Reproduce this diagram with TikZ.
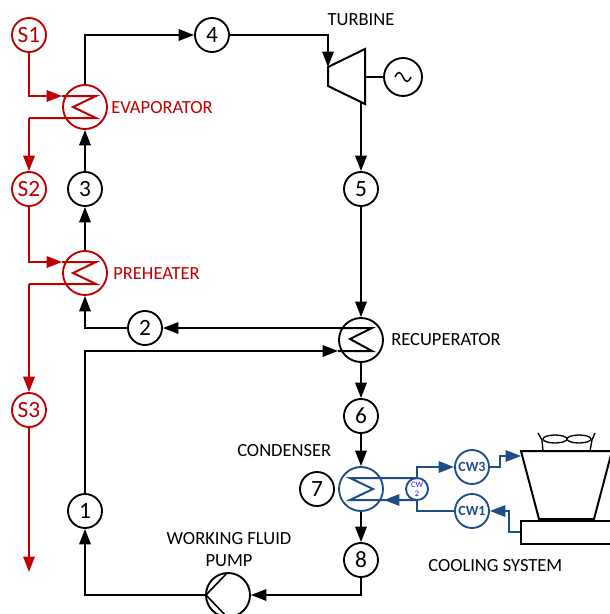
\documentclass[tikz,border=0pt]{standalone}
\usepackage{fontspec}
\setmainfont{Carlito}
\usepackage{xcolor}
\usetikzlibrary{arrows.meta}
\definecolor{hotred}{HTML}{C00000}
\definecolor{coolblue}{HTML}{1F4E87}
\definecolor{labelblue}{HTML}{2020E0}
\tikzset{
  flow/.style={line width=1.5pt,-{Triangle[length=11.5pt,width=8.5pt]}},
  pipe/.style={line width=1.5pt},
  statept/.style={circle,draw,line width=1.4pt,minimum size=25.5pt,inner sep=0pt,font=\fontsize{17.5}{18}\selectfont},
  smallpt/.style={statept,font=\fontsize{10.5}{11}\selectfont\bfseries,text=coolblue},
  hx/.style={circle,draw,line width=1.4pt,minimum size=33pt,inner sep=0pt},
  lbl/.style={font=\fontsize{13.9}{16.5}\selectfont,inner sep=0pt}
}
\begin{document}
\begin{tikzpicture}[x=0.75pt,y=-0.75pt]
  \useasboundingbox (0,0) rectangle (610,614);

  % Working fluid states
  \node[statept] (n1) at (85,511) {1};
  \node[statept] (n2) at (145,328) {2};
  \node[statept] (n3) at (85,189) {3};
  \node[statept] (n4) at (212,35) {4};
  \node[statept] (n5) at (361,189) {5};
  \node[statept] (n6) at (361,416) {6};
  \node[statept] (n7) at (317,489) {7};
  \node[statept] (n8) at (361,560) {8};

  % Heat source states
  \node[statept,hotred] (s1) at (29,35) {S1};
  \node[statept,hotred] (s2) at (29,189) {S2};
  \node[statept,hotred] (s3) at (29,410) {S3};
  \coordinate (s3out) at (29,572);

  % Heat exchangers
  \node[hx,hotred] (evap) at (85,107) {};
  \node[hx,hotred] (preh) at (85,273) {};
  \node[hx] (recup) at (361,340) {};
  \node[hx,coolblue] (cond) at (361,489) {};
  \node[hx] (pump) at (228,595) {};

  % Evaporator and preheater coils
  \draw[pipe,hotred] (evap.west |- 0,96) -- (96,96) -- (73,107) -- (96,118) -- (29,118);
  \draw[pipe,hotred] (preh.west |- 0,262) -- (96,262) -- (73,273) -- (96,284) -- (29,284);
  \draw[flow,hotred] (29,118) -- (s2);
  \draw[flow,hotred] (29,284) -- (s3);
  \draw[flow,hotred] (s1) |- (evap.west |- 0,96);
  \draw[flow,hotred] (s2) |- (preh.west |- 0,262);
  \draw[flow,hotred] (s3) -- (s3out);

  % Recuperator coil
  \draw[pipe] (recup.west |- 0,328) -- (372,328) -- (350,339) -- (372,351) -- (recup.west |- 0,351);
  \draw[flow] (recup.west |- 0,328) -- (n2);
  \draw[flow] (n1) |- (recup.west |- 0,351);

  % Main cycle
  \draw[flow] (n3) -- (evap);
  \draw[flow] (preh) -- (n3);
  \draw[flow] (evap) |- (n4);
  \draw[flow] (n2) -| (preh);
  \draw[flow] (n5) -- (recup);
  \draw[flow] (recup) -- (n6);
  \draw[flow] (n6) -- (cond);
  \draw[flow] (cond) -- (n8);
  \draw[flow] (n8) |- (pump);
  \draw[flow] (pump) -| (n1);

  % Turbine and generator
  \draw[pipe,line join=miter] (328,67) -- (365,49) -- (365,104) -- (328,86) -- cycle;
  \coordinate (turbin) at (328,67);
  \coordinate (turbout) at (361,102);
  \coordinate (turbshaft) at (365,77);
  \node[statept,minimum size=28.5pt] (gen) at (403,77) {};
  \draw[line width=1.1pt] (395,77) .. controls (398,71) and (400,71) .. (403,77) .. controls (406,83) and (408,83) .. (411,77);
  \draw[flow] (n4) -| (turbin);
  \draw[pipe] (turbshaft) -- (gen);
  \draw[flow] (turbout) -- (n5);

  % Cooling water
  \node[statept,coolblue,minimum size=16.5pt,font=\fontsize{6.3}{7}\selectfont,text=labelblue,align=center] (cw2) at (417,489) {CW\\2};
  \node[smallpt,coolblue] (cw3) at (472,467) {CW3};
  \node[smallpt,coolblue] (cw1) at (472,511) {CW1};
  \coordinate (towerin) at (521,456);
  \coordinate (towerout) at (521,532);
  \draw[pipe,coolblue] (417,478) -- (350,478) -- (373,489) -- (350,500) -- (417,500);
  \draw[flow,coolblue] (417,500) -- (cond.east |- 0,500);
  \draw[flow,coolblue] (417,478) |- (cw3);
  \draw[pipe,coolblue] (cw1) -| (417,500);
  \draw[flow,coolblue] (cw3) -- (500,467) -- (500,456) -- (towerin);
  \draw[flow,coolblue] (towerout) -- (509,532) -- (509,511) -- (cw1);

  % Cooling tower
  \draw[pipe] (612,451) -- (521,451) -- (539,519) -- (594,519) -- (612,451);
  \draw[pipe] (612,521) -- (521,521) -- (521,544) -- (612,544);
  \draw[line width=1pt] (543,451) -- (542,440) -- (538,433);
  \draw[line width=1pt] (590,451) -- (592,440) -- (595,433);
  \draw[line width=1pt] (555,439) ellipse (12 and 4);
  \draw[line width=1pt] (579,439) ellipse (12 and 4);

  % Labels
  \node[lbl] (turblbl) at (361,20) {TURBINE};
  \node[lbl,anchor=west,hotred] (evaplbl) at (111,108) {EVAPORATOR};
  \node[lbl,anchor=west,hotred] (prehlbl) at (113,274) {PREHEATER};
  \node[lbl,anchor=west] (recuplbl) at (391,340) {RECUPERATOR};
  \node[lbl,anchor=west] (condlbl) at (237,451) {CONDENSER};
  \node[lbl,align=center] (pumplbl) at (229,550) {WORKING FLUID\\PUMP};
  \node[lbl,anchor=west] (coollbl) at (428,566) {COOLING SYSTEM};

  % Pump wedge
  \draw[line width=1.2pt] (227,573) -- (206,595) -- (227,617);
\end{tikzpicture}
\end{document}
